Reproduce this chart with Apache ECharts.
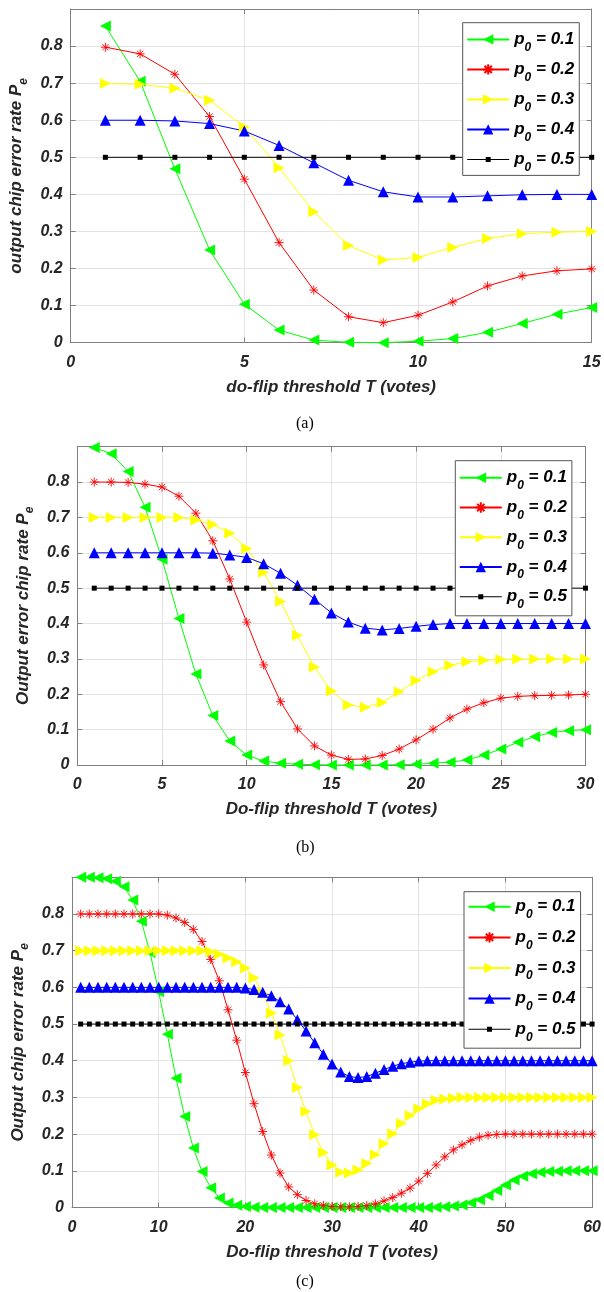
<!DOCTYPE html>
<html>
<head>
<meta charset="utf-8">
<script src="https://cdn.jsdelivr.net/npm/echarts@6/dist/echarts.min.js"></script>
<style>
  html, body { margin: 0; padding: 0; background: #fff; }
  #chart { width: 604px; height: 1292px; }
</style>
</head>
<body>
<div id="chart"></div>
<script>
// x values (votes)
const tA = [1, 2, 3, 4, 5, 6, 7, 8, 9, 10, 11, 12, 13, 14, 15];
const tB = [1, 2, 3, 4, 5, 6, 7, 8, 9, 10, 11, 12, 13, 14, 15, 16, 17, 18, 19, 20,
  21, 22, 23, 24, 25, 26, 27, 28, 29, 30];
const tC = [1, 2, 3, 4, 5, 6, 7, 8, 9, 10, 11, 12, 13, 14, 15, 16, 17, 18, 19, 20,
  21, 22, 23, 24, 25, 26, 27, 28, 29, 30, 31, 32, 33, 34, 35, 36, 37, 38, 39, 40,
  41, 42, 43, 44, 45, 46, 47, 48, 49, 50, 51, 52, 53, 54, 55, 56, 57, 58, 59, 60];

// legend labels (p0)
const p0Names = ['0.1', '0.2', '0.3', '0.4', '0.5'];

// panel (a)
const a1 = [0.854, 0.705, 0.469, 0.250, 0.104, 0.034, 0.007, 0.001, 0.000, 0.004, 0.011, 0.028, 0.052, 0.077, 0.095];
const a2 = [0.797, 0.779, 0.724, 0.610, 0.441, 0.270, 0.142, 0.070, 0.054, 0.074, 0.110, 0.153, 0.180, 0.194, 0.199];
const a3 = [0.699, 0.697, 0.686, 0.654, 0.582, 0.472, 0.353, 0.262, 0.223, 0.230, 0.257, 0.281, 0.294, 0.298, 0.300];
const a4 = [0.600, 0.600, 0.598, 0.591, 0.571, 0.532, 0.485, 0.438, 0.407, 0.393, 0.393, 0.396, 0.399, 0.400, 0.400];
const a5 = [0.5, 0.5, 0.5, 0.5, 0.5, 0.5, 0.5, 0.5, 0.5, 0.5, 0.5, 0.5, 0.5, 0.5, 0.5];

// panel (b)
const b1 = [0.898, 0.880, 0.830, 0.729, 0.582, 0.414, 0.257, 0.140, 0.068, 0.028,
  0.011, 0.005, 0.002, 0.001, 0.000, 0.000, 0.000, 0.000, 0.001, 0.002,
  0.005, 0.008, 0.014, 0.028, 0.045, 0.064, 0.080, 0.092, 0.097, 0.100];
const b2 = [0.800, 0.800, 0.799, 0.794, 0.786, 0.760, 0.712, 0.634, 0.526, 0.404,
  0.283, 0.179, 0.102, 0.054, 0.028, 0.016, 0.017, 0.027, 0.045, 0.071,
  0.101, 0.133, 0.158, 0.176, 0.189, 0.194, 0.196, 0.197, 0.198, 0.200];
const b3 = [0.700, 0.700, 0.700, 0.700, 0.700, 0.700, 0.693, 0.680, 0.655, 0.612,
  0.545, 0.462, 0.366, 0.277, 0.209, 0.170, 0.163, 0.177, 0.207, 0.239,
  0.264, 0.282, 0.292, 0.296, 0.298, 0.300, 0.300, 0.300, 0.300, 0.300];
const b4 = [0.600, 0.600, 0.600, 0.600, 0.600, 0.600, 0.600, 0.599, 0.594, 0.587,
  0.569, 0.542, 0.508, 0.469, 0.430, 0.404, 0.387, 0.382, 0.386, 0.392,
  0.397, 0.400, 0.400, 0.400, 0.400, 0.400, 0.400, 0.400, 0.400, 0.400];
const b5 = [0.5, 0.5, 0.5, 0.5, 0.5, 0.5, 0.5, 0.5, 0.5, 0.5, 0.5, 0.5, 0.5, 0.5, 0.5,
  0.5, 0.5, 0.5, 0.5, 0.5, 0.5, 0.5, 0.5, 0.5, 0.5, 0.5, 0.5, 0.5, 0.5, 0.5];

// panel (c)
const c1 = [0.900, 0.900, 0.899, 0.896, 0.889, 0.874, 0.838, 0.780, 0.695, 0.588,
  0.472, 0.352, 0.248, 0.162, 0.098, 0.054, 0.026, 0.012, 0.006, 0.003,
  0.001, 0.000, 0.000, 0.000, 0.000, 0.000, 0.000, 0.000, 0.000, 0.000,
  0.000, 0.000, 0.000, 0.000, 0.000, 0.000, 0.000, 0.000, 0.000, 0.000,
  0.000, 0.001, 0.002, 0.004, 0.007, 0.013, 0.021, 0.033, 0.046, 0.061,
  0.075, 0.085, 0.092, 0.096, 0.098, 0.099, 0.100, 0.100, 0.100, 0.100];
const c2 = [0.800, 0.800, 0.800, 0.800, 0.800, 0.800, 0.800, 0.800, 0.800, 0.800,
  0.797, 0.789, 0.777, 0.758, 0.725, 0.676, 0.618, 0.539, 0.456, 0.368,
  0.283, 0.207, 0.143, 0.094, 0.056, 0.035, 0.019, 0.010, 0.006, 0.003,
  0.002, 0.002, 0.003, 0.005, 0.010, 0.018, 0.027, 0.039, 0.053, 0.072,
  0.093, 0.116, 0.138, 0.157, 0.171, 0.183, 0.192, 0.197, 0.199, 0.200,
  0.200, 0.200, 0.200, 0.200, 0.200, 0.200, 0.200, 0.200, 0.200, 0.200];
const c3 = [0.700, 0.700, 0.700, 0.700, 0.700, 0.700, 0.700, 0.700, 0.700, 0.700,
  0.700, 0.700, 0.700, 0.700, 0.700, 0.697, 0.690, 0.680, 0.670, 0.653,
  0.626, 0.584, 0.530, 0.470, 0.400, 0.327, 0.262, 0.198, 0.150, 0.116,
  0.096, 0.094, 0.102, 0.120, 0.144, 0.174, 0.201, 0.229, 0.251, 0.269,
  0.283, 0.292, 0.296, 0.298, 0.300, 0.300, 0.300, 0.300, 0.300, 0.300,
  0.300, 0.300, 0.300, 0.300, 0.300, 0.300, 0.300, 0.300, 0.300, 0.300];
const c4 = [0.600, 0.600, 0.600, 0.600, 0.600, 0.600, 0.600, 0.600, 0.600, 0.600,
  0.600, 0.600, 0.600, 0.600, 0.600, 0.600, 0.600, 0.600, 0.600, 0.598,
  0.594, 0.587, 0.577, 0.561, 0.541, 0.512, 0.481, 0.449, 0.418, 0.391,
  0.369, 0.357, 0.354, 0.357, 0.366, 0.376, 0.385, 0.392, 0.396, 0.399,
  0.400, 0.400, 0.400, 0.400, 0.400, 0.400, 0.400, 0.400, 0.400, 0.400,
  0.400, 0.400, 0.400, 0.400, 0.400, 0.400, 0.400, 0.400, 0.400, 0.400];
const c5 = [0.5, 0.5, 0.5, 0.5, 0.5, 0.5, 0.5, 0.5, 0.5, 0.5, 0.5, 0.5, 0.5, 0.5, 0.5,
  0.5, 0.5, 0.5, 0.5, 0.5, 0.5, 0.5, 0.5, 0.5, 0.5, 0.5, 0.5, 0.5, 0.5, 0.5,
  0.5, 0.5, 0.5, 0.5, 0.5, 0.5, 0.5, 0.5, 0.5, 0.5, 0.5, 0.5, 0.5, 0.5, 0.5,
  0.5, 0.5, 0.5, 0.5, 0.5, 0.5, 0.5, 0.5, 0.5, 0.5, 0.5, 0.5, 0.5, 0.5, 0.5];

const yTicks = ['0', '0.1', '0.2', '0.3', '0.4', '0.5', '0.6', '0.7', '0.8'];

const FONT = '"Liberation Sans", Arial, sans-serif';
const AXIS_GREY = '#808080';
const TEXT_COL = '#262626';

// marker look of each p0 curve (MATLAB style)
const marks = [
  { color: '#00ff00', symbol: 'path://M0,5L10,0L10,10Z', size: 11 },
  { color: '#ff0000', symbol: 'path://M5,0L5,10M0,5L10,5M1.5,1.5L8.5,8.5M1.5,8.5L8.5,1.5', size: 9, stroke: true },
  { color: '#ffff00', symbol: 'path://M10,5L0,0L0,10Z', size: 11 },
  { color: '#0000ff', symbol: 'triangle', size: 11 },
  { color: '#000000', symbol: 'rect', size: 5 }
];
// small square for the p0 = 0.5 legend entry (line + marker in a 42x13 box)
const squareIcon = 'path://M0,6L42,6L42,7L0,7Z M18.5,4L23.5,4L23.5,9L18.5,9Z';

const panels = [
  { xs: tA, ys: [a1, a2, a3, a4, a5], xmax: 15, step: 5,
    grid: { left: 69, top: 9, width: 522.7, height: 333.7 },
    xName: 'do-flip threshold T (votes)', yName: 'output chip error rate P',
    yGap: 26, legend: { left: 462.7, top: 22.7, gap: 7.5, pad: [8.2, 5, 2, 3.5] },
    tag: '(a)', tagY: 424 },
  { xs: tB, ys: [b1, b2, b3, b4, b5], xmax: 30, step: 5,
    grid: { left: 77.3, top: 446.7, width: 508.2, height: 318.3 },
    xName: 'Do-flip threshold T (votes)', yName: 'Output error chip rate P',
    yGap: 29, legend: { left: 455.3, top: 460.7, gap: 7.25, pad: [8.6, 5, 5, 3.5] },
    tag: '(b)', tagY: 848 },
  { xs: tC, ys: [c1, c2, c3, c4, c5], xmax: 60, step: 10,
    grid: { left: 72, top: 877.3, width: 524, height: 330.2 },
    xName: 'Do-flip threshold T (votes)', yName: 'Output chip error rate P',
    yGap: 26, legend: { left: 464, top: 891.7, gap: 8.1, pad: [6.6, 5, 5, 3.5] },
    tag: '(c)', tagY: 1282 }
];

const boldItalic = { fontFamily: FONT, fontWeight: 'bold', fontStyle: 'italic', color: TEXT_COL };

const grids = [], xAxes = [], yAxes = [], series = [], legends = [], texts = [];

panels.forEach((p, gi) => {
  grids.push(Object.assign({ containLabel: false }, p.grid));

  // bottom axis + top box edge
  xAxes.push({
    type: 'value', gridIndex: gi, min: 0, max: p.xmax, interval: p.step,
    name: p.xName, nameLocation: 'middle', nameGap: 36,
    nameTextStyle: Object.assign({ fontSize: 17 }, boldItalic),
    axisLine: { show: true, onZero: false, lineStyle: { color: AXIS_GREY, width: 1 } },
    axisTick: { show: true, inside: true, length: 5, lineStyle: { color: AXIS_GREY } },
    axisLabel: Object.assign({ fontSize: 16, margin: 12 }, boldItalic),
    splitLine: { show: true, lineStyle: { color: '#e3e3e3', width: 1 } }
  });
  xAxes.push({
    type: 'value', gridIndex: gi, position: 'top', min: 0, max: p.xmax, interval: p.step,
    axisLine: { show: true, onZero: false, lineStyle: { color: AXIS_GREY, width: 1 } },
    axisTick: { show: true, inside: true, length: 5, lineStyle: { color: AXIS_GREY } },
    axisLabel: { show: false }, splitLine: { show: false }
  });

  yAxes.push({
    type: 'value', gridIndex: gi, min: 0, max: 0.9, interval: 0.1,
    name: '{t|' + p.yName + '}{s|e}', nameLocation: 'middle', nameGap: p.yGap,
    nameTextStyle: {
      rich: {
        t: Object.assign({ fontSize: 17, lineHeight: 26 }, boldItalic),
        s: Object.assign({ fontSize: 12, lineHeight: 12, verticalAlign: 'bottom' }, boldItalic)
      }
    },
    axisLine: { show: true, onZero: false, lineStyle: { color: AXIS_GREY, width: 1 } },
    axisTick: { show: true, inside: true, length: 5, lineStyle: { color: AXIS_GREY } },
    axisLabel: Object.assign({
      fontSize: 16, margin: 8,
      formatter: (v) => yTicks[Math.round(v * 10)] || ''
    }, boldItalic),
    splitLine: { show: true, lineStyle: { color: '#e3e3e3', width: 1 } }
  });
  yAxes.push({
    type: 'value', gridIndex: gi, position: 'right', min: 0, max: 0.9, interval: 0.1,
    axisLine: { show: true, onZero: false, lineStyle: { color: AXIS_GREY, width: 1 } },
    axisTick: { show: true, inside: true, length: 5, lineStyle: { color: AXIS_GREY } },
    axisLabel: { show: false }, splitLine: { show: false }
  });

  p.ys.forEach((ys, k) => {
    const m = marks[k];
    series.push({
      name: p0Names[k], type: 'line',
      xAxisIndex: gi * 2, yAxisIndex: gi * 2,
      data: p.xs.map((x, i) => [x, ys[i]]),
      symbol: m.symbol, symbolSize: m.size, showAllSymbol: true,
      lineStyle: { color: m.color, width: 1 },
      itemStyle: m.stroke
        ? { color: m.color, borderColor: m.color, borderWidth: 0.9 }
        : { color: m.color, borderWidth: 0 },
      clip: false,
      emphasis: { disabled: true }
    });
  });

  legends.push({
    orient: 'vertical', left: p.legend.left, top: p.legend.top,
    data: p0Names.map((n, k) => (k === 4 ? { name: n, icon: squareIcon } : n)),
    itemGap: p.legend.gap, itemWidth: 42, itemHeight: 13,
    padding: p.legend.pad, borderColor: '#555', borderWidth: 1,
    backgroundColor: '#fff', selectedMode: false,
    formatter: (n) => '{p|p}{s|0}{p| = ' + n + '}',
    textStyle: {
      rich: {
        p: Object.assign({ fontSize: 17, lineHeight: 28 }, boldItalic, { color: '#000' }),
        s: Object.assign({ fontSize: 12, lineHeight: 12, verticalAlign: 'bottom' }, boldItalic, { color: '#000' })
      }
    }
  });

  texts.push({
    type: 'text', left: 307 - 11, top: p.tagY - 8,
    style: { text: p.tag, font: '16px "Liberation Serif", "Times New Roman", serif', fill: '#000' }
  });
});

const chart = echarts.init(document.getElementById('chart'));
chart.setOption({
  animation: false,
  backgroundColor: '#fff',
  grid: grids,
  xAxis: xAxes,
  yAxis: yAxes,
  legend: legends,
  series: series,
  graphic: texts
});
</script>
</body>
</html>
